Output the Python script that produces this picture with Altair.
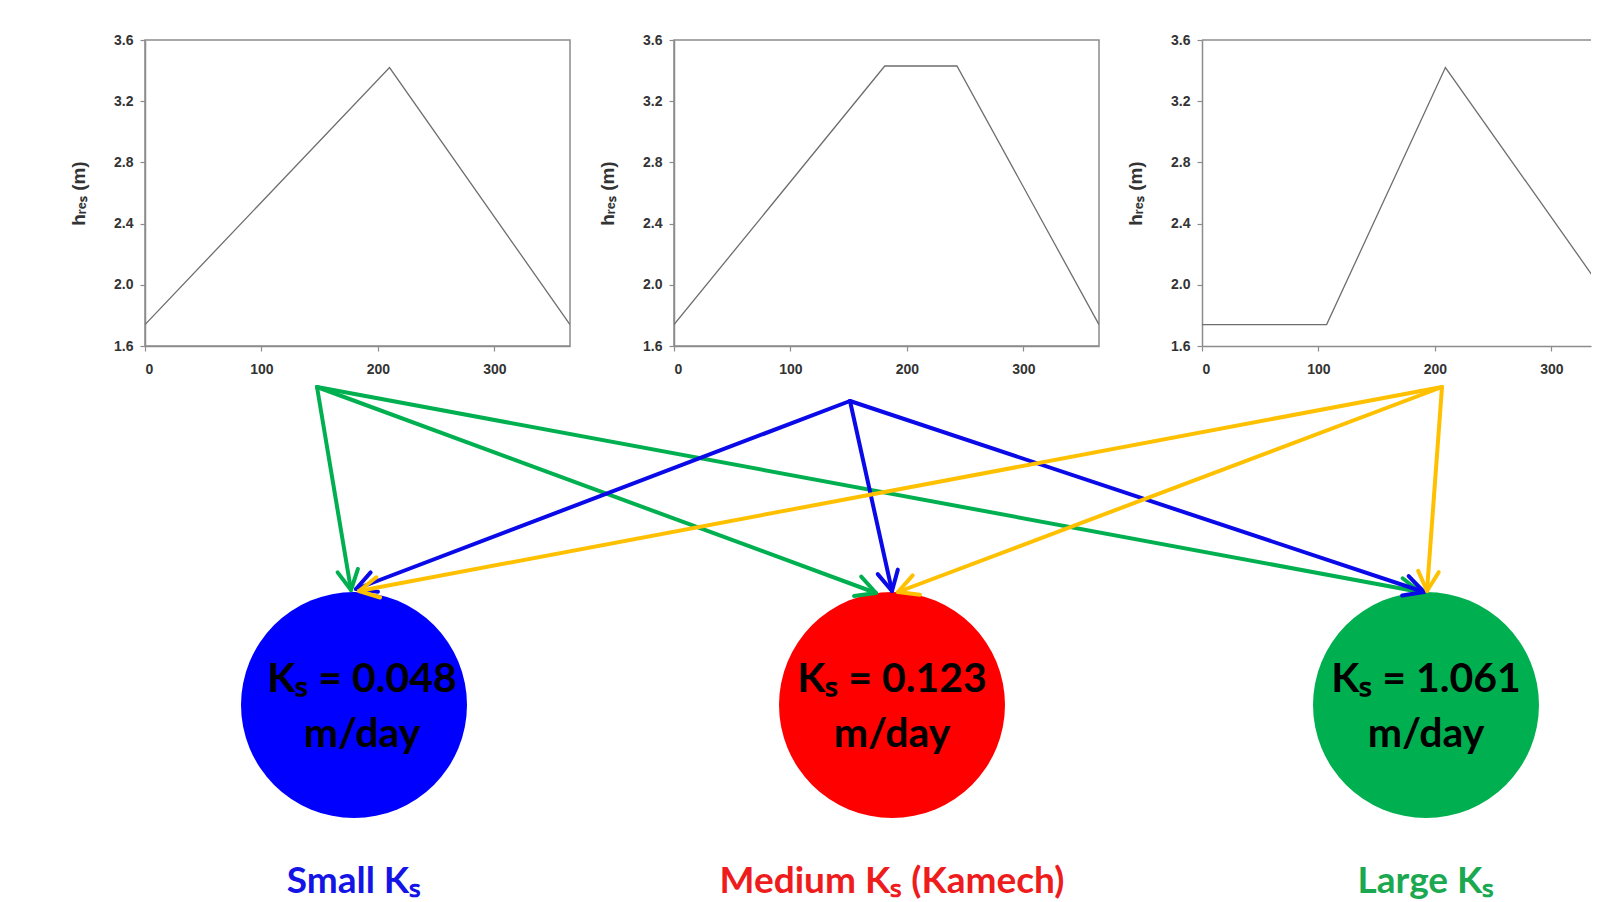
import altair as alt
import pandas as pd
import numpy as np

# ---------------- data: reservoir level scenarios (top panels) ----------------
p1_day = [0, 210, 365]
p1_h = [1.74, 3.42, 1.74]
p2_day = [0, 181, 243, 365]
p2_h = [1.74, 3.43, 3.43, 1.74]
p3_day = [0, 107, 209, 365]
p3_h = [1.74, 1.74, 3.42, 1.74]

y_ticks = [1.6, 2.0, 2.4, 2.8, 3.2, 3.6]
x_ticks = [0, 100, 200, 300]

# ---------------- data: diagram (page-pixel coordinates) ----------------
node_names = ["Small", "Medium", "Large"]
node_x = [355, 893, 1427]
node_y = [704, 704, 704]
node_text_x = [363, 893, 1427]
node_ks = ["0.048", "0.123", "1.061"]
node_label = ["Small Kₛ", "Medium Kₛ (Kamech)", "Large Kₛ"]

src_names = ["green", "blue", "yellow"]
src_x = [318, 851, 1443]
src_y = [386, 400, 386]

tip_x = [[352, 877, 1421], [357, 893, 1425], [360, 899, 1428]]
tip_y = [[589, 592, 591], [588, 590, 591], [590, 591, 590]]

# ---------------- styles ----------------
node_fill = ["#0000FF", "#FF0000", "#00B050"]
label_colors = ["#1414E6", "#EE1C1C", "#1AA850"]
arrow_colors = ["#00B050", "#0A0AE8", "#FFC000"]
frame_color = "#8c8c8c"
line_color = "#6e6e6e"

# ---------------- top panels ----------------
def panel(days, h, width, xmax, frame=True):
    df = pd.DataFrame({"day": days, "h": h})
    x = alt.X("day:Q",
              scale=alt.Scale(domain=[0, xmax], nice=False, zero=False),
              axis=alt.Axis(values=x_ticks, title=None, format="d", labelPadding=11))
    y = alt.Y("h:Q",
              scale=alt.Scale(domain=[1.6, 3.6], nice=False, zero=False),
              axis=alt.Axis(values=y_ticks, format=".1f", title="hᵣₑₛ (m)",
                            labelPadding=7, minExtent=40, maxExtent=40,
                            titlePadding=17))
    line = alt.Chart(df).mark_line(color=line_color, strokeWidth=1.3, clip=True).encode(x=x, y=y)
    layers = [line]
    if not frame:
        top = alt.Chart(pd.DataFrame({"h": [3.6]})).mark_rule(
            color=frame_color, strokeWidth=1.5).encode(y=alt.Y("h:Q"))
        layers.append(top)
    ch = alt.layer(*layers).properties(width=width, height=306)
    if not frame:
        ch = ch.properties(view=alt.ViewBackground(strokeOpacity=0))
    return ch

p1 = panel(p1_day, p1_h, 425, 365)
p2 = panel(p2_day, p2_h, 425, 365)
p3 = panel(p3_day, p3_h, 389, 334, frame=False)

top_row = alt.hconcat(p1, p2, p3, spacing=26)

# ---------------- diagram ----------------
L, W = 146, 1447
T, H = 381, 510
X = lambda f: alt.X(f, scale=alt.Scale(domain=[L, L + W], nice=False, zero=False), axis=None)
Y = lambda f: alt.Y(f, scale=alt.Scale(domain=[T, T + H], nice=False, zero=False, reverse=True), axis=None)

nodes = pd.DataFrame({
    "name": node_names, "x": node_x, "y": node_y, "tx": node_text_x,
    "line1": ["Kₛ = " + k for k in node_ks],
    "line2": ["m/day"] * 3,
    "label": node_label,
})
nodes["y1"] = nodes["y"] - 25
nodes["y2"] = nodes["y"] + 30
nodes["ylab"] = 881

rows = []
for i, s in enumerate(src_names):
    for j, n in enumerate(node_names):
        tx, ty = tip_x[i][j], tip_y[i][j]
        dx, dy = tx - src_x[i], ty - src_y[i]
        ang = (np.degrees(np.arctan2(dx, -dy)) + 360) % 360
        rows.append({"src": s, "target": n, "x": src_x[i], "y": src_y[i],
                     "tx": tx, "ty": ty, "ang": ang})
arrows = pd.DataFrame(rows)

r = 113
layers = []
for j, n in enumerate(node_names):
    sub = nodes[nodes["name"] == n]
    layers.append(alt.Chart(sub).mark_point(
        shape="circle", filled=True, opacity=1, size=(2 * r) ** 2, strokeWidth=0).encode(
        x=X("x:Q"), y=Y("y:Q"), color=alt.value(node_fill[j])))

for i, s in enumerate(src_names):
    sub = arrows[arrows["src"] == s]
    shafts = alt.Chart(sub).mark_rule(strokeWidth=4, strokeCap="round").encode(
        x=X("x:Q"), y=Y("y:Q"), x2="tx:Q", y2="ty:Q", color=alt.value(arrow_colors[i]))
    heads = alt.Chart(sub).mark_point(
        shape="M -0.5 0.95 L 0 0 L 0.5 0.95", filled=False, opacity=1, size=1700,
        strokeWidth=4, strokeCap="round", strokeJoin="round").encode(
        x=X("tx:Q"), y=Y("ty:Q"), angle=alt.Angle("ang:Q", scale=None),
        color=alt.value(arrow_colors[i]))
    layers += [shafts, heads]

txt1 = alt.Chart(nodes).mark_text(font="Lato", fontWeight="bold", fontSize=41,
                                  color="#000000", baseline="middle").encode(
    x=X("tx:Q"), y=Y("y1:Q"), text="line1:N")
txt2 = alt.Chart(nodes).mark_text(font="Lato", fontWeight="bold", fontSize=41,
                                  color="#000000", baseline="middle").encode(
    x=X("tx:Q"), y=Y("y2:Q"), text="line2:N")
layers += [txt1, txt2]
for j, n in enumerate(node_names):
    sub = nodes[nodes["name"] == n]
    layers.append(alt.Chart(sub).mark_text(font="Lato", fontWeight="bold", fontSize=37,
                                           baseline="middle").encode(
        x=X("x:Q"), y=Y("ylab:Q"), text="label:N", color=alt.value(label_colors[j])))

diagram = alt.layer(*layers).properties(width=W, height=H,
                                        view=alt.ViewBackground(strokeOpacity=0))

chart = alt.vconcat(top_row, diagram, spacing=5).properties(
    padding={"left": 60, "top": 24, "right": 0, "bottom": 0},
    background="white"
).configure_view(stroke=frame_color, strokeWidth=1.5).configure_axis(
    domainColor=frame_color, domainWidth=1.5, tickColor=frame_color, tickSize=5,
    tickWidth=1.2, grid=False, labelFont="Liberation Sans", labelFontWeight="bold",
    labelFontSize=14, labelColor="#333333", titleFont="Liberation Sans",
    titleFontWeight="bold", titleFontSize=19, titleColor="#333333"
)

chart.save("out.html", embed_options={"renderer": "svg", "actions": False})
